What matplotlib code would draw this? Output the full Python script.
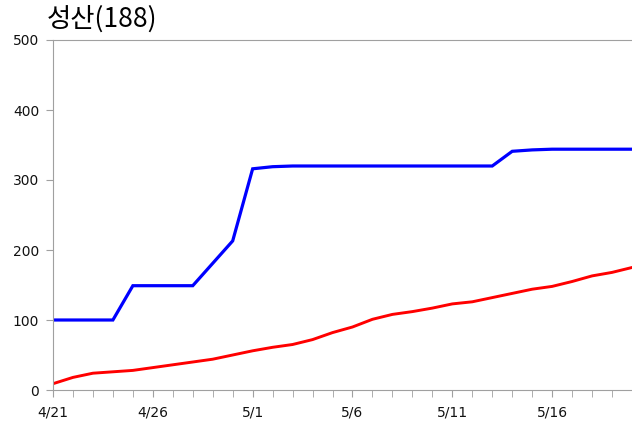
import matplotlib.pyplot as plt

days = ["4/21", "4/22", "4/23", "4/24", "4/25", "4/26", "4/27", "4/28", "4/29", "4/30",
        "5/1", "5/2", "5/3", "5/4", "5/5", "5/6", "5/7", "5/8", "5/9", "5/10",
        "5/11", "5/12", "5/13", "5/14", "5/15", "5/16", "5/17", "5/18", "5/19", "5/20"]
blue = [100, 100, 100, 100, 149, 149, 149, 149, 181, 213,
        316, 319, 320, 320, 320, 320, 320, 320, 320, 320,
        320, 320, 320, 341, 343, 344, 344, 344, 344, 344]
red = [9, 18, 24, 26, 28, 32, 36, 40, 44, 50,
       56, 61, 65, 72, 82, 90, 101, 108, 112, 117,
       123, 126, 132, 138, 144, 148, 155, 163, 168, 175]
yticks = [0, 100, 200, 300, 400, 500]

fig = plt.figure(figsize=(6.32, 4.25), dpi=100)
ax = fig.add_axes([53 / 632, 1 - 390 / 425, 1 - 53 / 632, 350 / 425])

x = list(range(len(days)))
ax.plot(x, blue, color="#0000ff", lw=2.3, solid_joinstyle="miter")
ax.plot(x, red, color="#ff0000", lw=2.1)

ax.set_xlim(0, len(days) - 1)
ax.set_ylim(0, 500)
ax.set_yticks(yticks)
ax.set_xticks(x, minor=True)
ax.set_xticks(x[::5])
ax.set_xticklabels(days[::5])

for side in ["left", "bottom", "top"]:
    ax.spines[side].set_color("#a0a0a0")
ax.spines["right"].set_visible(False)
ax.tick_params(axis="both", which="both", direction="out", length=5, color="#a0a0a0",
               labelsize=10, labelcolor="#111111")
ax.tick_params(axis="x", pad=6)
ax.tick_params(axis="y", pad=5)

fig.text(47 / 632, 1 - 19 / 425, "성산(188)", fontsize=19, va="center", ha="left",
         weight="medium", family=["Noto Sans CJK KR", "DejaVu Sans"])

fig.savefig("out.png", dpi=100)
